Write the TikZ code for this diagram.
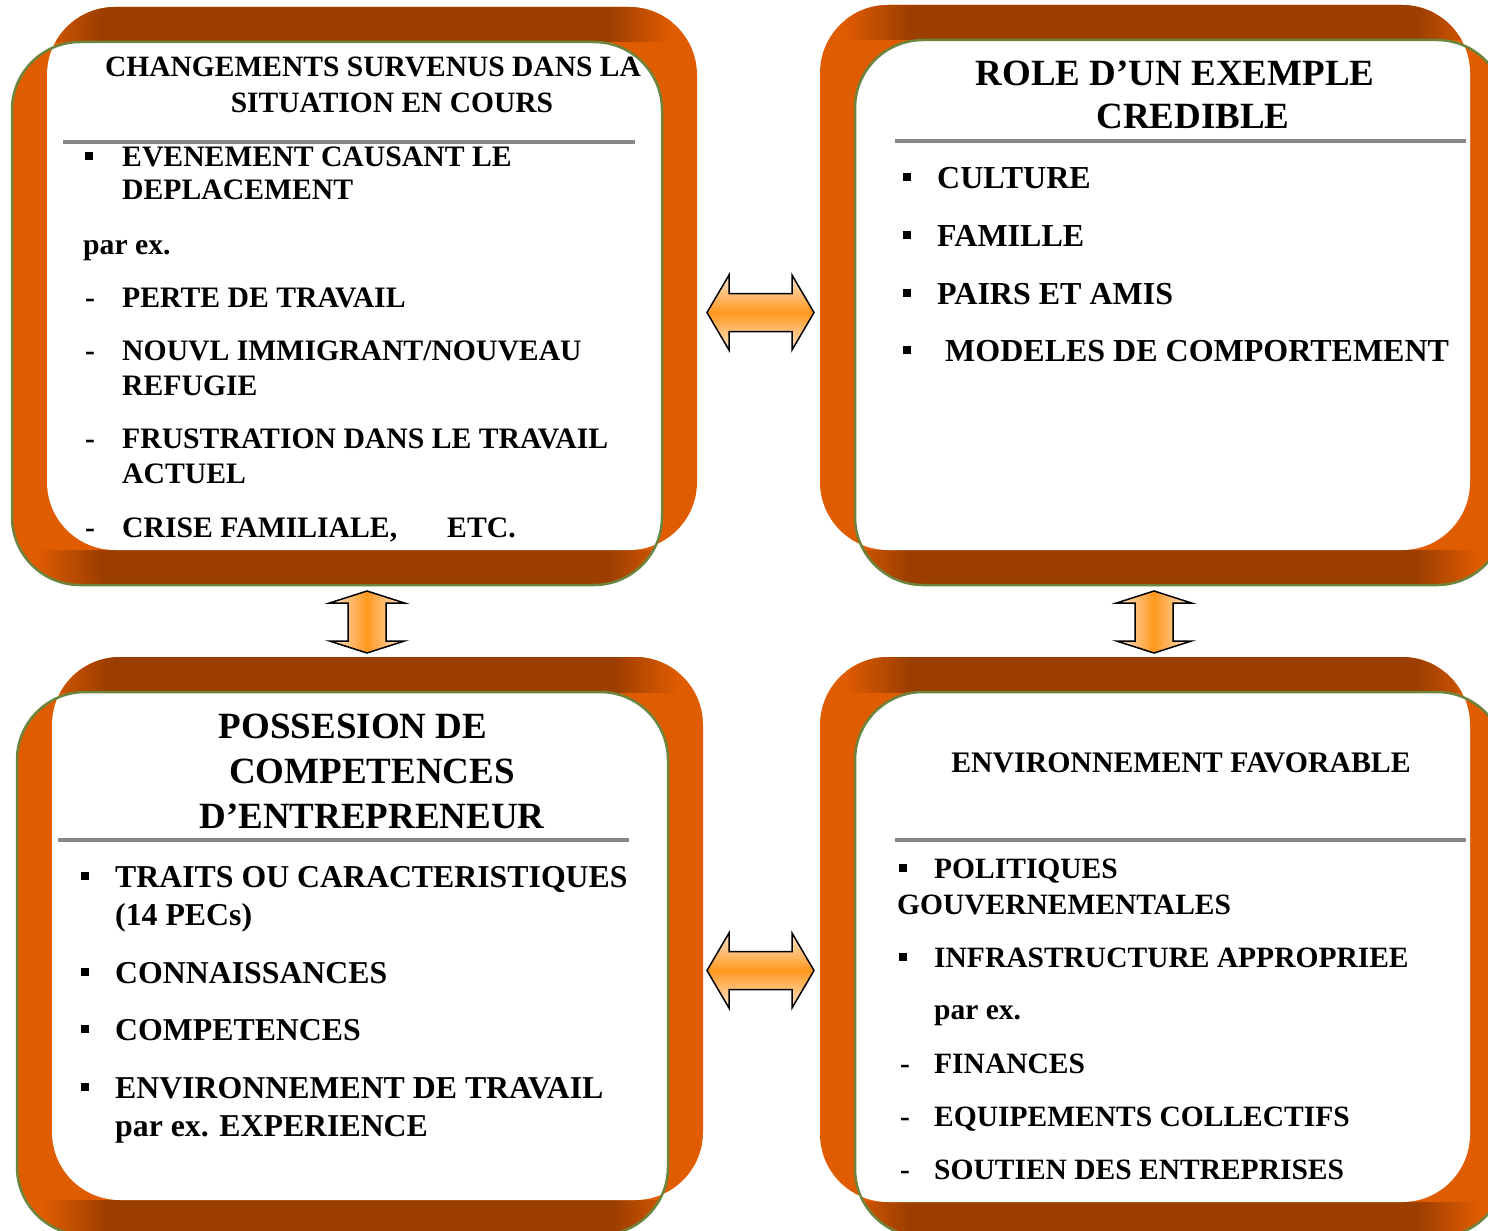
\documentclass[tikz,border=0pt]{standalone}
\usepackage{fontspec}
\setmainfont{Liberation Serif}
\definecolor{framebrown}{RGB}{155,62,0}
\definecolor{frameorange}{RGB}{224,92,0}
\definecolor{framegreen}{RGB}{108,132,62}
\definecolor{rulegray}{RGB}{136,136,136}
\definecolor{arrowmid}{RGB}{255,152,30}
\definecolor{arrowedge}{RGB}{255,230,210}

\tikzset{
  txt/.style={anchor=base west, inner sep=0pt, font=\bfseries\fontsize{#1}{#1}\selectfont},
  ttl/.style={anchor=base, inner sep=0pt, font=\bfseries\fontsize{#1}{#1}\selectfont},
  sq/.style={fill=black, inner sep=0pt, minimum size=8pt},
  hrule/.style={rulegray, line width=4.5pt},
  blockarrow/.style={draw=black, line width=1.5pt}
}

\begin{document}
\begin{tikzpicture}[x=1pt, y=-1pt]
    \useasboundingbox (0,0) rectangle (1488,1231);

    % frames: white area, front face, back face
    \foreach \wl/\wt/\wr/\wb/\gl/\gr/\bl/\br in {47/42/662/550/12/662/47/697, 855/40/1470/550/855/1505/820/1470, 52/692/668/1200/17/668/52/703, 855/692/1470/1202/855/1505/820/1470}{
      \begin{scope}
        \clip[rounded corners=68pt] (\gl,\wt) rectangle (\gr,\wb+35) (\bl,\wt-35) rectangle (\br,\wb);
        \fill[frameorange] (\wl-80,\wt-40) rectangle (\wr+80,\wb+40);
        \foreach \ya/\yb in {\wt-40/\wt, \wb/\wb+40}{
          \shade[left color=frameorange, right color=framebrown] (\wl-10,\ya) rectangle (\wl+55,\yb);
          \fill[framebrown] (\wl+55,\ya) rectangle (\wr-55,\yb);
          \shade[left color=framebrown, right color=frameorange] (\wr-55,\ya) rectangle (\wr+10,\yb);
        }
      \end{scope}
      \begin{scope}
        \clip[rounded corners=68pt] (\gl,\wt) rectangle (\gr,\wb+35);
        \fill[white, rounded corners=68pt] (\bl,\wt-35) rectangle (\br,\wb);
      \end{scope}
      \draw[framegreen, line width=2.5pt, rounded corners=68pt] (\gl,\wt) rectangle (\gr,\wb+35);
    }

    % double arrows
    \foreach \cx/\cy in {760.5/312.5, 760.5/970.5}{
      \shade[blockarrow, top color=arrowedge, bottom color=arrowedge, middle color=arrowmid]
        (\cx-53.5,\cy) -- ++(22,-37.5) -- ++(0,18.5) -- ++(63,0) -- ++(0,-18.5) -- ++(22,37.5)
        -- ++(-22,37.5) -- ++(0,-18.5) -- ++(-63,0) -- ++(0,18.5) -- cycle;
    }
    \foreach \cx/\cy in {367/622, 1154/622}{
      \shade[blockarrow, left color=arrowedge, right color=arrowedge, middle color=arrowmid]
        (\cx,\cy-31) -- ++(37.5,12) -- ++(-18.5,0) -- ++(0,38) -- ++(18.5,0) -- ++(-37.5,12)
        -- ++(-37.5,-12) -- ++(18.5,0) -- ++(0,-38) -- ++(-18.5,0) -- cycle;
    }

    % top left
    \node[ttl=29.5] (changeA) at (373,77) {CHANGEMENTS SURVENUS DANS LA};
    \node[ttl=29.5] (changeB) at (392,112) {SITUATION EN COURS};
    \draw[hrule] (63,142) -- (635,142);
    \node[sq] (changeS1) at (89,156) {};
    \node[txt=29.7] (change1) at (122,166) {EVENEMENT CAUSANT LE};
    \node[txt=29.7] (change2) at (122,199) {DEPLACEMENT};
    \node[txt=29.7] (change3) at (83,254) {par ex.};
    \node[txt=29.7] (changeD1) at (85,307) {-};
    \node[txt=29.7] (change4) at (122,307) {PERTE DE TRAVAIL};
    \node[txt=29.7] (changeD2) at (85,360) {-};
    \node[txt=29.7] (change5) at (122,360) {NOUVL IMMIGRANT/NOUVEAU};
    \node[txt=29.7] (change6) at (122,395) {REFUGIE};
    \node[txt=29.7] (changeD3) at (85,448) {-};
    \node[txt=29.7] (change7) at (122,448) {FRUSTRATION DANS LE TRAVAIL};
    \node[txt=29.7] (change8) at (122,483) {ACTUEL};
    \node[txt=29.7] (changeD4) at (85,537) {-};
    \node[txt=29.7] (change9) at (122,537) {CRISE FAMILIALE,\hspace*{50pt}ETC.};

    % top right
    \node[ttl=37] (roleA) at (1175,85) {ROLE D’UN EXEMPLE};
    \node[ttl=37] (roleB) at (1193,128) {CREDIBLE};
    \draw[hrule] (895,141) -- (1466,141);
    \node[sq] (roleS1) at (907,177) {};
    \node[txt=32] (role1) at (937,188) {CULTURE};
    \node[sq] (roleS2) at (907,235) {};
    \node[txt=32] (role2) at (937,246) {FAMILLE};
    \node[sq] (roleS3) at (907,293) {};
    \node[txt=32] (role3) at (937,304) {PAIRS ET AMIS};
    \node[sq] (roleS4) at (907,350) {};
    \node[txt=32] (role4) at (945,361) {MODELES DE COMPORTEMENT};

    % bottom left
    \node[ttl=37] (skillA) at (353,738) {POSSESION DE};
    \node[ttl=37] (skillB) at (372,783) {COMPETENCES};
    \node[ttl=37] (skillC) at (372,828) {D’ENTREPRENEUR};
    \draw[hrule] (58,840) -- (629,840);
    \node[sq] (skillS1) at (85,876) {};
    \node[txt=31.8] (skill1) at (115,887) {TRAITS OU CARACTERISTIQUES};
    \node[txt=31.8] (skill2) at (115,925) {(14 PECs)};
    \node[sq] (skillS2) at (85,972) {};
    \node[txt=31.8] (skill3) at (115,983) {CONNAISSANCES};
    \node[sq] (skillS3) at (85,1029) {};
    \node[txt=31.8] (skill4) at (115,1040) {COMPETENCES};
    \node[sq] (skillS4) at (85,1087) {};
    \node[txt=31.8] (skill5) at (115,1098) {ENVIRONNEMENT DE TRAVAIL};
    \node[txt=31.8] (skill6) at (115,1136) {par ex. EXPERIENCE};

    % bottom right
    \node[ttl=29.8] (envA) at (1181,772) {ENVIRONNEMENT FAVORABLE};
    \draw[hrule] (895,840) -- (1466,840);
    \node[sq] (envS1) at (903,868) {};
    \node[txt=29.5] (env1) at (934,878) {POLITIQUES};
    \node[txt=29.5] (env2) at (897,914) {GOUVERNEMENTALES};
    \node[sq] (envS2) at (903,957) {};
    \node[txt=29.5] (env3) at (934,967) {INFRASTRUCTURE APPROPRIEE};
    \node[txt=29.5] (env4) at (934,1019) {par ex.};
    \node[txt=29.5] (envD1) at (900,1073) {-};
    \node[txt=29.5] (env5) at (934,1073) {FINANCES};
    \node[txt=29.5] (envD2) at (900,1126) {-};
    \node[txt=29.5] (env6) at (934,1126) {EQUIPEMENTS COLLECTIFS};
    \node[txt=29.5] (envD3) at (900,1179) {-};
    \node[txt=29.5] (env7) at (934,1179) {SOUTIEN DES ENTREPRISES};
\end{tikzpicture}
\end{document}
